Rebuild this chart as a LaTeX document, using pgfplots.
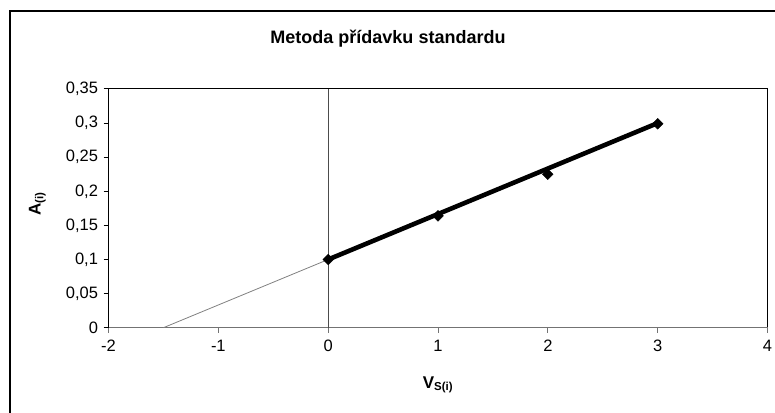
\documentclass[border=0pt]{standalone}
\usepackage{pgfplots}
\pgfplotsset{compat=1.18}
\usepackage{fontspec}
\setmainfont{Liberation Sans}
\begin{document}
\begin{tikzpicture}[x=1pt,y=1pt]
\useasboundingbox (0pt,0pt) rectangle (775pt,412pt);
% outer chart frame (right and bottom sides lie outside the picture)
\draw[line width=1.5pt] (10pt,-5pt) -- (10pt,401pt) -- (780pt,401pt);
\node[font=\fontsize{18}{21}\selectfont\bfseries] at (388pt,373pt) {Metoda přídavku standardu};
\begin{axis}[
  at={(108.5pt,84.3pt)}, anchor=south west,
  scale only axis, width=659pt, height=238.7pt,
  xmin=-2, xmax=4, ymin=0, ymax=0.35,
  axis line style={draw=none},
  xtick={-2,-1,0,1,2,3,4},
  xticklabels={-2,-1,0,1,2,3,4},
  ytick={0,0.05,0.1,0.15,0.2,0.25,0.3,0.35},
  yticklabels={0,{0,05},{0,1},{0,15},{0,2},{0,25},{0,3},{0,35}},
  tick pos=left, tick align=outside, major tick length=5pt,
  x tick style={black!55, line width=1pt},
  y tick style={black, line width=1pt},
  ticklabel style={font=\fontsize{16.5}{19}\selectfont},
  xticklabel style={yshift=-4pt},
  yticklabel style={xshift=-2pt},
  xlabel={\textbf{V\textsubscript{\fontsize{11.5}{13}\selectfont S(i)}}},
  xlabel style={at={(axis description cs:0.5,-0.24)}, anchor=center, font=\fontsize{17}{19}\selectfont},
  ylabel={\textbf{A\textsubscript{\fontsize{11.5}{13}\selectfont (i)}}},
  ylabel style={at={(axis description cs:-0.108,0.52)}, anchor=center, font=\fontsize{17}{19}\selectfont},
  clip=false,
]
% plot area frame
\draw[black, line width=1pt] (rel axis cs:0,0) -- (rel axis cs:0,1) -- (rel axis cs:1,1) -- (rel axis cs:1,0);
\draw[black!55, line width=1.2pt] (rel axis cs:0,0) -- (rel axis cs:1,0);
\draw[black!70, line width=1pt] (axis cs:0,0) -- (axis cs:0,0.35);
% extrapolation line
\addplot[black!50, line width=0.8pt] coordinates {(-1.5,0) (0,0.1)};
% calibration line
\addplot[black, line width=4.6pt] coordinates {(0,0.1) (3,0.3)};
% measured points
\addplot[only marks, mark=square*, mark options={rotate=45}, mark size=3.8pt, black] coordinates {(0,0.1) (1,0.164) (2,0.225) (3,0.299)};
\end{axis}
\end{tikzpicture}
\end{document}
